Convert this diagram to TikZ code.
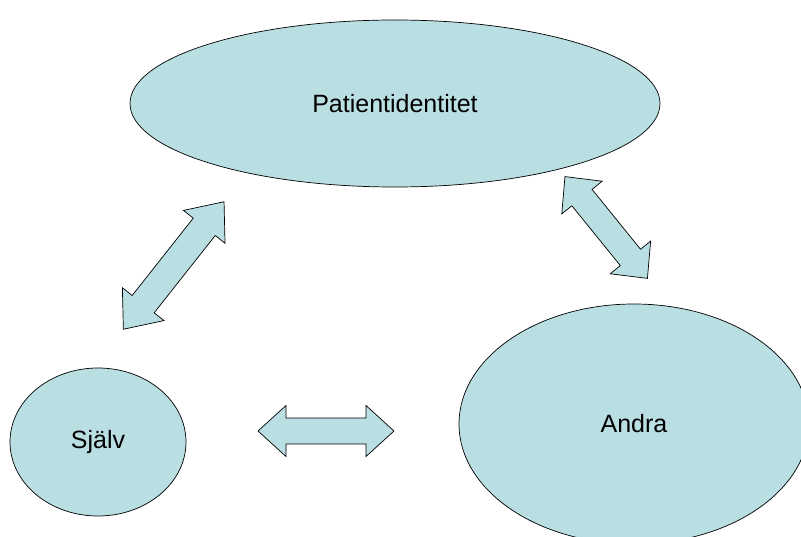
\documentclass[tikz,border=0pt]{standalone}
\usepackage{fontspec}
\setmainfont{Liberation Sans}
\usetikzlibrary{shapes.geometric}
\definecolor{fillc}{RGB}{185,223,227}
\tikzset{
  bubble/.style={ellipse, draw=black, line width=0.7pt, fill=fillc, inner sep=0pt,
                 font=\fontsize{25}{29}\selectfont},
  blockarrow/.style={draw=black, line width=0.7pt, fill=fillc, line join=miter},
  pics/dblarrow/.style args={#1/#2/#3/#4}{code={
    \draw[blockarrow] (-#1/2,0) -- (-#1/2+#2,#3) -- (-#1/2+#2,#4) -- (#1/2-#2,#4)
      -- (#1/2-#2,#3) -- (#1/2,0) -- (#1/2-#2,-#3) -- (#1/2-#2,-#4)
      -- (-#1/2+#2,-#4) -- (-#1/2+#2,-#3) -- cycle;
  }}
}
\begin{document}
\begin{tikzpicture}[x=1pt,y=-1pt]
  \clip (0,0) rectangle (801,537);
  \fill[white] (0,0) rectangle (801,537);
  \node[bubble, minimum width=530, minimum height=167] (pat) at (395,103.5) {Patientidentitet};
  \node[bubble, minimum width=176, minimum height=148] (sjalv) at (98,442) {Själv};
  \node[bubble, minimum width=350, minimum height=240] (andra) at (634,424) {Andra};
  \pic (a1) [rotate=51.7] at (173.7,265.5) {dblarrow=162.5/32/26.5/14};
  \pic (a2) [rotate=-51] at (606.2,227.5) {dblarrow=131/27/26/13};
  \pic (a3) at (326,431) {dblarrow=136/28/25.5/13};
\end{tikzpicture}
\end{document}
